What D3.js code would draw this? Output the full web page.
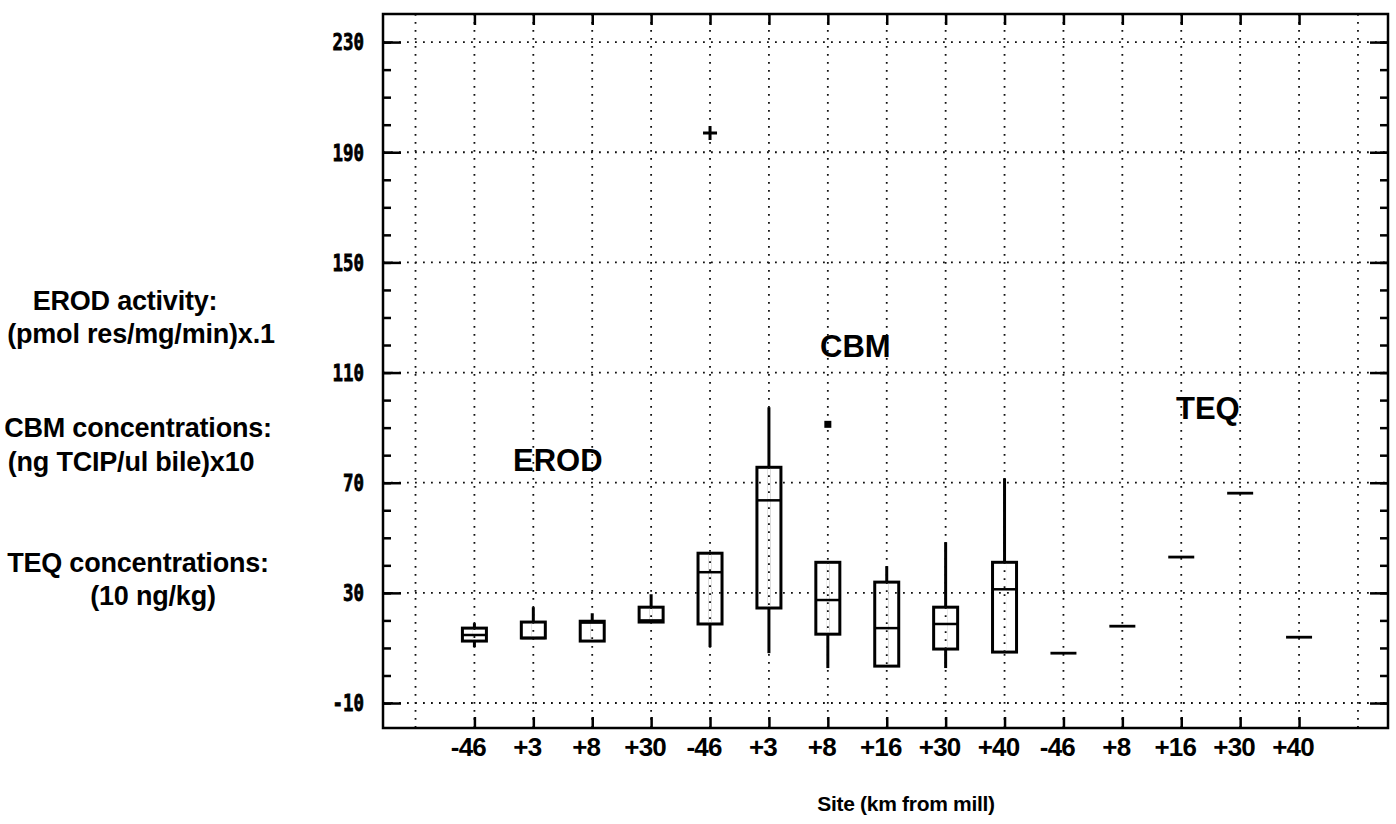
<!DOCTYPE html>
<html>
<head>
<meta charset="utf-8">
<script src="https://cdn.jsdelivr.net/npm/d3@7"></script>
<style>
body { margin: 0; background: #fff; }
svg { display: block; }
.axis path { display: none; }
.axis line { stroke: #000; stroke-width: 2.5; }
.grid line { stroke: #111; stroke-width: 1.8; stroke-dasharray: 1.8 6.2; }
text { font-family: "Liberation Sans", Arial, Helvetica, sans-serif; font-weight: bold; fill: #000; }
</style>
</head>
<body>
<div class="chart"></div>
<script>
const width = 1396;
const height = 824;

// site labels along the x axis, one per box / line
const sites = ["-46", "+3", "+8", "+30", "-46", "+3", "+8", "+16", "+30", "+40", "-46", "+8", "+16", "+30", "+40"];
// box stats: [low whisker, q1, median, q3, high whisker]
const erodBoxes = [
	[10.3, 12.5, 14.7, 17.2, 19],
	[13.6, 13.6, 13.6, 19.4, 24.8],
	[12.5, 12.5, 19.2, 19.7, 22.6],
	[19.4, 19.4, 20, 24.8, 29.5]
];
const cbmBoxes = [
	[10.3, 18.7, 37.5, 44.4, 44.4],
	[8.1, 24.5, 63.6, 75.6, 97.4],
	[2.7, 15, 27.4, 41.1, 41.1],
	[3.4, 3.4, 17.2, 33.9, 39.7],
	[2.7, 9.6, 18.7, 24.8, 48.4],
	[8.5, 8.5, 31.3, 41.1, 71.6]
];
// TEQ has a single value per site
const teqValues = [8.1, 17.9, 43, 66.2, 13.9];
// outliers: [site index, value]
const crossOutliers = [[4, 197]];
const squareOutliers = [[6, 91.2]];

const yTicks = [-10, 30, 70, 110, 150, 190, 230];
const yMinor = d3.range(-10, 231, 10);
const groupNames = ["EROD", "CBM", "TEQ"];
const unitNotes = [
	"EROD activity:", "(pmol res/mg/min)x.1",
	"CBM concentrations:", "(ng TCIP/ul bile)x10",
	"TEQ concentrations:", "(10 ng/kg)"
];
const xTitle = "Site (km from mill)";

const svg = d3.select(".chart")
	.append("svg")
	.attr("width", width)
	.attr("height", height);

// frame of the plot
const frameLeft = 383, frameRight = 1388, frameTop = 14, frameBottom = 728;

const x = d3.scaleLinear()
	.domain([-0.552, 16.51])
	.range([frameLeft, frameRight]);
const y = d3.scaleLinear()
	.domain([-19.07, 240.2])
	.range([frameBottom, frameTop]);

const positions = sites.map((s, i) => i + 1);

// dotted grid
const grid = svg.append("g").attr("class", "grid");
grid.selectAll(".h")
	.data(yTicks)
	.enter()
	.append("line")
		.attr("x1", frameLeft).attr("x2", frameRight)
		.attr("y1", (d) => y(d)).attr("y2", (d) => y(d));
grid.selectAll(".v")
	.data(d3.range(0, 17))
	.enter()
	.append("line")
		.attr("x1", (d) => x(d)).attr("x2", (d) => x(d))
		.attr("y1", frameTop).attr("y2", frameBottom);

// frame
svg.append("rect")
	.attr("x", frameLeft).attr("y", frameTop)
	.attr("width", frameRight - frameLeft).attr("height", frameBottom - frameTop)
	.attr("fill", "none")
	.attr("stroke", "#000")
	.attr("stroke-width", 2.5);

// inward ticks
const addAxis = (axis, tx, ty) => svg.append("g")
	.attr("class", "axis")
	.attr("transform", `translate(${tx},${ty})`)
	.call(axis.tickFormat(""));

addAxis(d3.axisRight(y).tickValues(yMinor).tickSize(8), frameLeft, 0);
addAxis(d3.axisRight(y).tickValues(yTicks).tickSize(18), frameLeft, 0);
addAxis(d3.axisLeft(y).tickValues(yMinor).tickSize(8), frameRight, 0);
addAxis(d3.axisLeft(y).tickValues(yTicks).tickSize(18), frameRight, 0);
addAxis(d3.axisBottom(x).tickValues(positions).tickSize(11), 0, frameTop);
addAxis(d3.axisTop(x).tickValues(positions).tickSize(11), 0, frameBottom);

// y tick labels
svg.append("g")
	.selectAll("text")
	.data(yTicks)
	.enter()
	.append("text")
		.attr("x", 364)
		.attr("y", (d) => y(d))
		.attr("dy", "0.36em")
		.attr("text-anchor", "end")
		.attr("textLength", (d) => String(d).length * 10.5)
		.attr("lengthAdjust", "spacingAndGlyphs")
		.style("font-family", "'DejaVu Sans Mono', monospace")
		.style("font-size", "23px")
		.style("stroke", "#000")
		.style("stroke-width", "0.8px")
		.text((d) => d);

// x tick labels
svg.append("g")
	.selectAll("text")
	.data(sites)
	.enter()
	.append("text")
		.attr("x", (d, i) => x(positions[i]) - 6)
		.attr("y", 756)
		.attr("text-anchor", "middle")
		.style("font-size", "26px")
		.style("letter-spacing", "-0.8px")
		.text((d) => d);

// boxes
const boxes = erodBoxes.concat(cbmBoxes).map((b, i) => ({ pos: i + 1, stats: b }));
const boxW = 24;
const boxG = svg.append("g")
	.selectAll("g")
	.data(boxes)
	.enter()
	.append("g");

boxG.append("line")
	.attr("x1", (d) => x(d.pos)).attr("x2", (d) => x(d.pos))
	.attr("y1", (d) => y(d.stats[0])).attr("y2", (d) => y(d.stats[4]))
	.attr("stroke", "#000")
	.attr("stroke-width", 3);
boxG.append("rect")
	.attr("x", (d) => x(d.pos) - boxW / 2)
	.attr("y", (d) => y(d.stats[3]))
	.attr("width", boxW)
	.attr("height", (d) => y(d.stats[1]) - y(d.stats[3]))
	.attr("fill", "none")
	.attr("stroke", "#000")
	.attr("stroke-width", 3);
// hide the whisker inside the box, keep the dotted grid
boxG.append("line")
	.attr("x1", (d) => x(d.pos)).attr("x2", (d) => x(d.pos))
	.attr("y1", (d) => y(d.stats[3]) + 1.5).attr("y2", (d) => y(d.stats[1]) - 1.5)
	.attr("stroke", "#fff")
	.attr("stroke-width", 3.5);
boxG.append("line")
	.attr("x1", (d) => x(d.pos)).attr("x2", (d) => x(d.pos))
	.attr("y1", (d) => y(d.stats[3])).attr("y2", (d) => y(d.stats[1]))
	.attr("stroke", "#111")
	.attr("stroke-width", 1.8)
	.attr("stroke-dasharray", "1.8 6.2");
boxG.append("line")
	.attr("x1", (d) => x(d.pos) - boxW / 2).attr("x2", (d) => x(d.pos) + boxW / 2)
	.attr("y1", (d) => y(d.stats[2])).attr("y2", (d) => y(d.stats[2]))
	.attr("stroke", "#000")
	.attr("stroke-width", 2.5);

// TEQ single values
svg.append("g")
	.selectAll("line")
	.data(teqValues)
	.enter()
	.append("line")
		.attr("x1", (d, i) => x(i + 11) - 13).attr("x2", (d, i) => x(i + 11) + 13)
		.attr("y1", (d) => y(d)).attr("y2", (d) => y(d))
		.attr("stroke", "#000")
		.attr("stroke-width", 2.8);

// outliers
svg.append("g")
	.selectAll("path")
	.data(crossOutliers)
	.enter()
	.append("path")
		.attr("transform", (d) => `translate(${x(d[0] + 1)},${y(d[1])})`)
		.attr("d", "M-7,0H7M0,-7V7")
		.attr("stroke", "#000")
		.attr("stroke-width", 3);
svg.append("g")
	.selectAll("rect")
	.data(squareOutliers)
	.enter()
	.append("rect")
		.attr("x", (d) => x(d[0] + 1) - 3.5)
		.attr("y", (d) => y(d[1]) - 3.5)
		.attr("width", 7).attr("height", 7)
		.attr("fill", "#000");

// group names inside the plot
const groupPos = [[513, 471], [820, 357], [1176, 419]];
svg.append("g")
	.selectAll("text")
	.data(groupNames)
	.enter()
	.append("text")
		.attr("x", (d, i) => groupPos[i][0])
		.attr("y", (d, i) => groupPos[i][1])
		.style("font-size", "31px")
		.text((d) => d);

// unit notes on the left
const notePos = [[125, 310], [141, 343], [138, 437], [131, 471], [138, 572], [153, 605]];
svg.append("g")
	.selectAll("text")
	.data(unitNotes)
	.enter()
	.append("text")
		.attr("x", (d, i) => notePos[i][0])
		.attr("y", (d, i) => notePos[i][1])
		.attr("text-anchor", "middle")
		.style("font-size", "27px")
		.style("letter-spacing", "-0.2px")
		.text((d) => d);

svg.append("text")
	.attr("x", 906)
	.attr("y", 811)
	.attr("text-anchor", "middle")
	.style("font-size", "21px")
	.style("letter-spacing", "-0.3px")
	.text(xTitle);
</script>
</body>
</html>
